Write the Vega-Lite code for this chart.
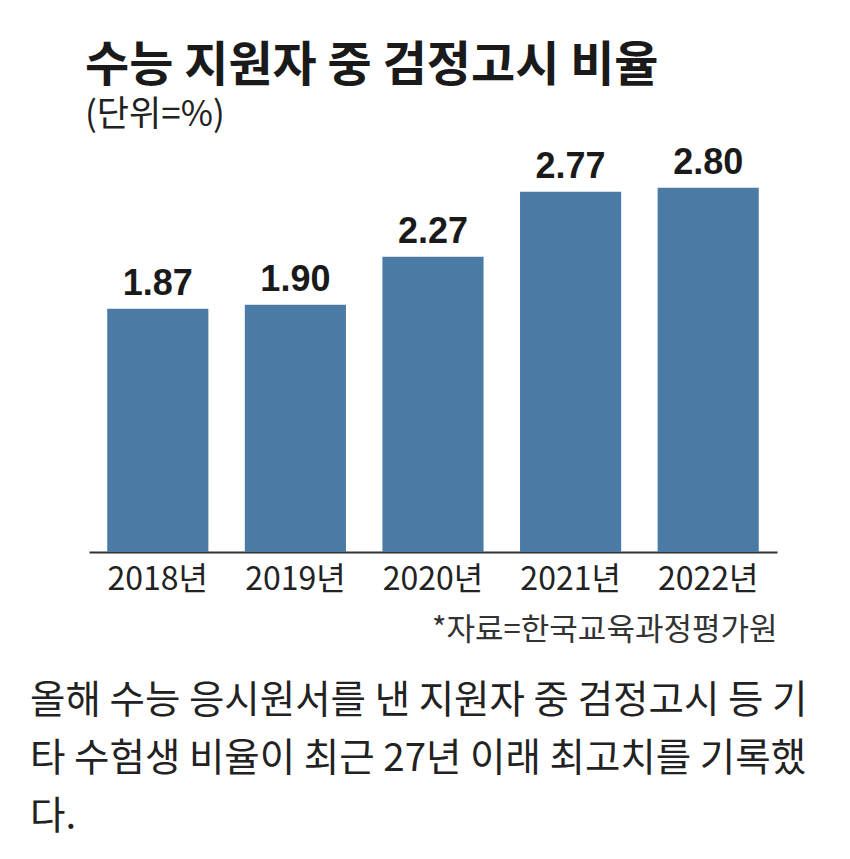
{
  "$schema": "https://vega.github.io/schema/vega-lite/v6.json",
  "width": 688,
  "height": 402,
  "autosize": {"type": "none"},
  "padding": {"left": 89, "top": 150, "right": 73, "bottom": 307},
  "background": "#ffffff",
  "config": {"view": {"stroke": null}},
  "title": {
    "text": "수능 지원자 중 검정고시 비율",
    "subtitle": "(단위=%)",
    "anchor": "start",
    "frame": "group",
    "dx": -4,
    "offset": 12,
    "font": "Noto Sans CJK KR",
    "fontSize": 48,
    "fontWeight": "bold",
    "color": "#1a1a1a",
    "subtitleFont": "Noto Sans CJK KR",
    "subtitleFontSize": 35,
    "subtitleColor": "#222222",
    "subtitlePadding": 7
  },
  "data": {
    "values": [
      {"year": "2018년", "ratio": 1.87, "label": "1.87"},
      {"year": "2019년", "ratio": 1.90, "label": "1.90"},
      {"year": "2020년", "ratio": 2.27, "label": "2.27"},
      {"year": "2021년", "ratio": 2.77, "label": "2.77"},
      {"year": "2022년", "ratio": 2.80, "label": "2.80"}
    ]
  },
  "encoding": {
    "x": {
      "field": "year",
      "type": "ordinal",
      "sort": null,
      "scale": {"paddingInner": 0.265, "paddingOuter": 0.1325},
      "axis": {
        "title": "*자료=한국교육과정평가원",
        "titleFont": "Noto Sans CJK KR",
        "titleFontSize": 31,
        "titleFontWeight": "normal",
        "titleColor": "#333333",
        "titleAnchor": "end",
        "titleAlign": "right",
        "titlePadding": 20,
        "labelAngle": 0,
        "labelFont": "Noto Sans CJK KR",
        "labelFontSize": 32,
        "labelColor": "#222222",
        "labelPadding": 12,
        "ticks": false,
        "domainColor": "#333333",
        "domainWidth": 2
      }
    },
    "y": {
      "field": "ratio",
      "type": "quantitative",
      "scale": {"domain": [0, 3.09], "nice": false},
      "axis": null
    }
  },
  "layer": [
    {"mark": {"type": "bar", "color": "#4b7ba4"}},
    {
      "mark": {
        "type": "text",
        "dy": -6,
        "baseline": "bottom",
        "font": "Liberation Sans",
        "fontWeight": "bold",
        "fontSize": 36,
        "color": "#1a1a1a"
      },
      "encoding": {"text": {"field": "label"}}
    },
    {
      "data": {
        "values": [
          {"line": "올해 수능 응시원서를 낸 지원자 중 검정고시 등 기", "pos": 563},
          {"line": "타 수험생 비율이 최근 27년 이래 최고치를 기록했", "pos": 621},
          {"line": "다.", "pos": 679}
        ]
      },
      "mark": {
        "type": "text",
        "align": "left",
        "baseline": "alphabetic",
        "font": "Noto Sans CJK KR",
        "fontSize": 38.5,
        "color": "#222222",
        "x": -59
      },
      "encoding": {
        "x": null,
        "y": {"field": "pos", "type": "quantitative", "scale": null},
        "text": {"field": "line"}
      }
    }
  ]
}
